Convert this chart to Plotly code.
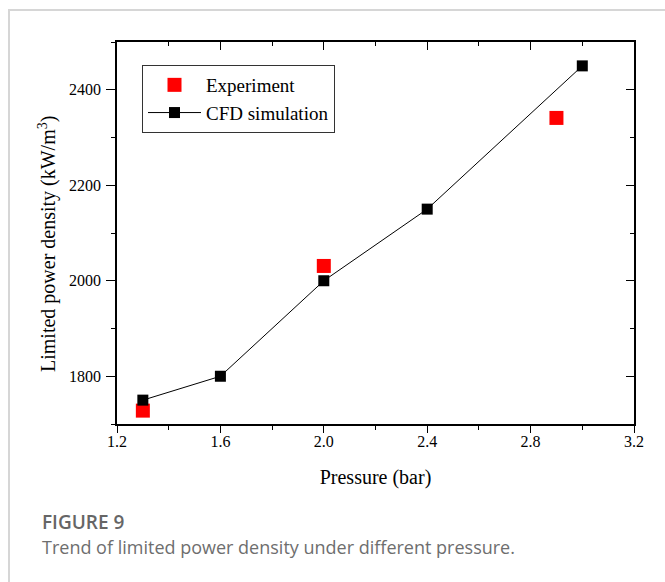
import plotly.graph_objects as go

# Data
cfd_pressure = [1.3, 1.6, 2.0, 2.4, 3.0]
cfd_density = [1750, 1800, 2000, 2150, 2450]
exp_pressure = [1.3, 2.0, 2.9]
exp_density = [1728, 2031, 2341]

x_tickvals = [1.2, 1.6, 2.0, 2.4, 2.8, 3.2]
x_ticktext = ["1.2", "1.6", "2.0", "2.4", "2.8", "3.2"]
y_tickvals = [1800, 2000, 2200, 2400]
y_ticktext = ["1800", "2000", "2200", "2400"]

SERIF = "Liberation Serif"
TICKFONT = dict(family=SERIF, size=16, color="black")
TITLEFONT = dict(family=SERIF, size=20, color="black")

fig = go.Figure()
fig.add_trace(go.Scatter(
    x=exp_pressure, y=exp_density, mode="markers", name="Experiment",
    marker=dict(symbol="square", size=14, color="#ff0000", line=dict(width=0)),
))
fig.add_trace(go.Scatter(
    x=cfd_pressure, y=cfd_density, mode="lines+markers", name="CFD simulation",
    line=dict(color="#000000", width=1),
    marker=dict(symbol="square", size=11, color="#000000", line=dict(width=0)),
))
# invisible trace to create mirrored (top/right) axes with inward ticks
fig.add_trace(go.Scatter(
    x=cfd_pressure, y=cfd_density, xaxis="x2", yaxis="y2", mode="markers",
    marker=dict(opacity=0), showlegend=False, hoverinfo="skip",
))

L, R, T, B = 117, 634, 42, 424
W, H = 665, 582

def px_x(px):
    return (px - L) / (R - L)

def px_y(py):
    return (B - py) / (B - T)

axis_common = dict(showgrid=False, zeroline=False, showline=True,
                   linecolor="black", linewidth=1.5)

fig.update_layout(
    template="none",
    width=W, height=H,
    margin=dict(l=L, r=W - R, t=T, b=H - B),
    plot_bgcolor="white", paper_bgcolor="white",
    font=dict(family=SERIF, size=15, color="black"),
    xaxis=dict(
        range=[1.2, 3.2], tickmode="array", tickvals=x_tickvals, ticktext=x_ticktext,
        ticks="outside", ticklen=7, tickwidth=1.2, tickcolor="black",
        minor=dict(ticks="outside", ticklen=4, dtick=0.2, tickcolor="black", tickwidth=1.2),
        tickfont=TICKFONT, ticklabelstandoff=-5,
        title=dict(text="Pressure (bar)", font=TITLEFONT, standoff=21),
        **axis_common,
    ),
    yaxis=dict(
        range=[1700, 2500], tickmode="array", tickvals=y_tickvals, ticktext=y_ticktext,
        ticks="outside", ticklen=9, tickwidth=1.2, tickcolor="black",
        minor=dict(ticks="outside", ticklen=4, dtick=100, tickcolor="black", tickwidth=1.2),
        tickfont=TICKFONT, ticklabelstandoff=2,
        **axis_common,
    ),
    xaxis2=dict(
        overlaying="x", side="top", range=[1.2, 3.2], tickmode="array", tickvals=x_tickvals,
        ticks="inside", ticklen=8, tickwidth=1.2, tickcolor="black",
        minor=dict(ticks="inside", ticklen=4, dtick=0.2, tickcolor="black", tickwidth=1.2),
        showticklabels=False, **axis_common,
    ),
    yaxis2=dict(
        overlaying="y", side="right", range=[1700, 2500], tickmode="array", tickvals=y_tickvals,
        ticks="inside", ticklen=8, tickwidth=1.2, tickcolor="black",
        minor=dict(ticks="inside", ticklen=4, dtick=100, tickcolor="black", tickwidth=1.2),
        showticklabels=False, **axis_common,
    ),
    legend=dict(
        x=px_x(142), y=px_y(65), xanchor="left", yanchor="top",
        bgcolor="white", bordercolor="#333333", borderwidth=1,
        font=dict(family=SERIF, size=19, color="black"),
        itemwidth=53, tracegroupgap=0,
    ),
    showlegend=True,
)

# y-axis title (placed as annotation to match vertical position)
fig.add_annotation(xref="paper", yref="paper", x=px_x(47), y=px_y(244),
                   xanchor="center", yanchor="middle", showarrow=False, textangle=-90,
                   text="Limited power density (kW/m<sup>3</sup>)", font=TITLEFONT)

# outer figure frame (light gray)
fig.add_shape(type="rect", xref="paper", yref="paper",
              x0=px_x(9), x1=px_x(680), y0=px_y(10), y1=px_y(600),
              line=dict(color="#d6d6d6", width=2), fillcolor="rgba(0,0,0,0)",
              layer="below")

CAP = "Open Sans"
fig.add_annotation(xref="paper", yref="paper", x=px_x(40), y=px_y(522),
                   xanchor="left", yanchor="middle", showarrow=False,
                   text="FIGURE 9",
                   font=dict(family=CAP, size=19, color="#666666", weight=600))
fig.add_annotation(xref="paper", yref="paper", x=px_x(40), y=px_y(547),
                   xanchor="left", yanchor="middle", showarrow=False,
                   text="Trend of limited power density under different pressure.",
                   font=dict(family=CAP, size=18, color="#6e6e6e"))

fig.write_html("out.html")
